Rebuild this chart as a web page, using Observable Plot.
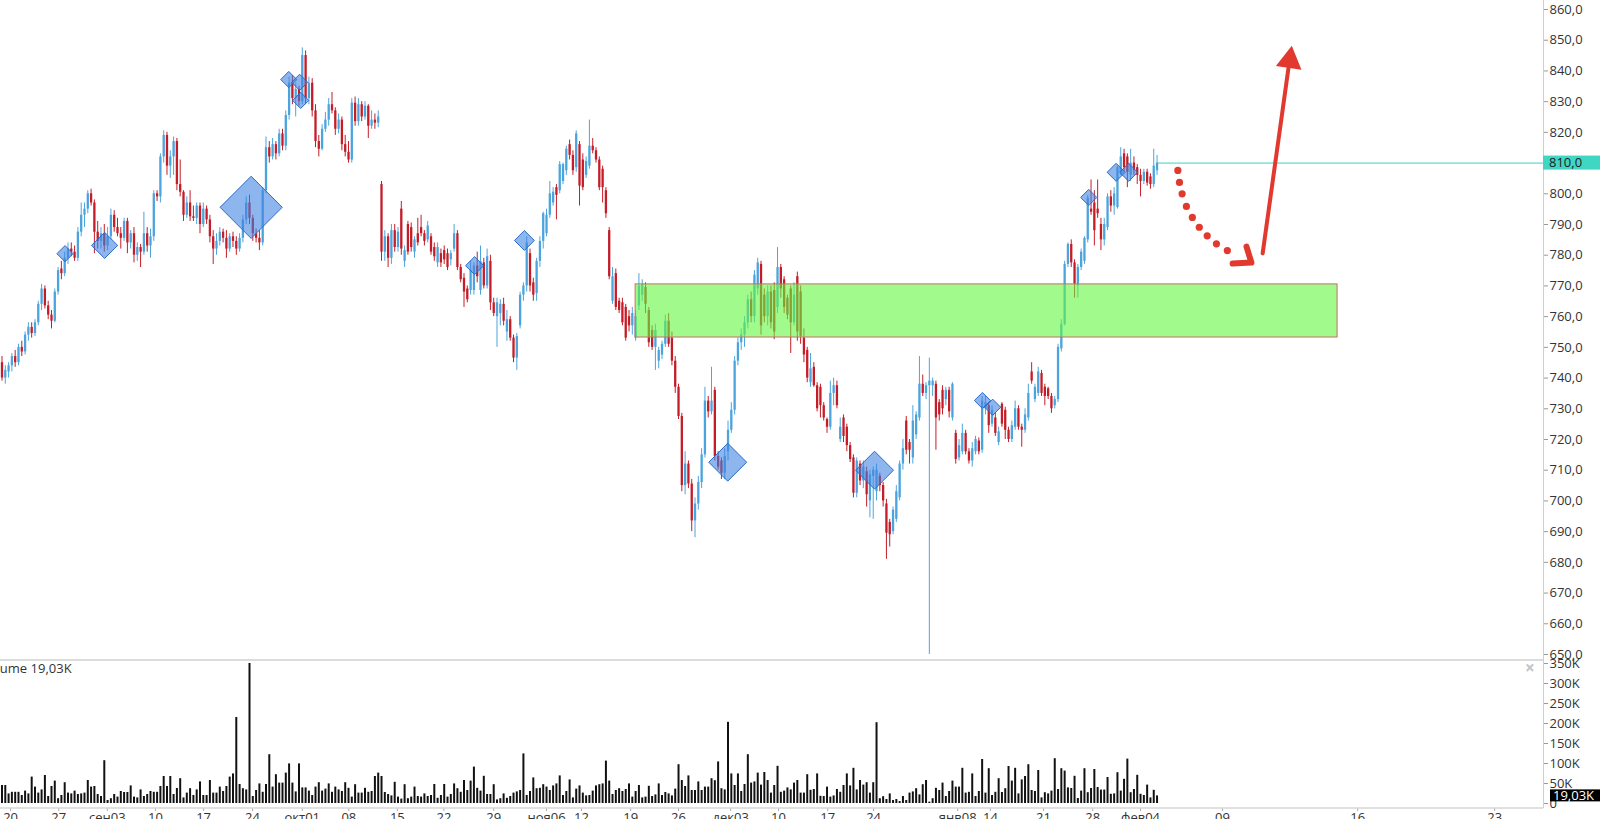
<!DOCTYPE html>
<html><head><meta charset="utf-8">
<script src="https://cdn.jsdelivr.net/npm/d3@7"></script>
<script src="https://cdn.jsdelivr.net/npm/@observablehq/plot@0.6"></script>
<style>
html,body{margin:0;padding:0;background:#fff;overflow:hidden;}
#wrap{position:relative;width:1600px;height:819px;overflow:hidden;font-family:"Open Sans",sans-serif;}
#price{position:absolute;left:0;top:0;}
#vol{position:absolute;left:0;top:659px;}
.vlabel{position:absolute;left:-19px;top:659px;font-size:13px;color:#333;white-space:nowrap;}
.closex{position:absolute;left:1525px;top:656px;font-size:17px;color:#c4c4c4;font-weight:bold;}
</style></head><body>
<div id="wrap"><div id="price"></div><div id="vol"></div>
<div class="vlabel">Volume 19,03K</div><div class="closex">×</div></div>
<script>
// ---- candles (one per ~4h bar) ----
const opens = [745,740,742,744,747,745,750,748.5,754,756.5,754.5,758,764,769,763.5,760.5,758.5,768,775.5,774,
779,782,781,779,787.5,793,795,800,797,787.5,784.5,787,783,786,793,789,787,785.5,791,784,
787,780,782.5,781,787,783,786,800,799,812,819,809,812,817,803,800.5,793,797,792.5,792,
796,790,795,791.5,786,782,784.5,787.5,785.5,782,786,784.5,782,785.5,791.5,797,792,787,785.5,784,
801,815,812,816,813,819.5,815.5,825.5,836,831,834,830,845,831,836,827,817,814.5,821,824,
829,827,821,824,816,813.5,811,829.5,823.5,829,825,828.5,822,824,823,803,781,786,779,788,
782.5,795,778,790,789,781,787,789,787,785,786,782.5,777.5,780.5,781.5,780.5,778.5,782,787,776,
772.5,769,768.5,768.5,776.5,768.5,777.5,770,778,764.5,760,761,764,755,759,753,746.5,757,767,770,
780.5,771,767.5,778,784.5,787,793,797,802,801,804,807.5,816,812.5,808.5,816,811,806,809,815.5,
814,811,808,801,788,765,774,765,764.5,763,760,757,753,763.5,767,769.5,762,755.5,750,745.5,
747.5,751,758.5,753,745.5,737,727.5,705,712,705.5,693.5,699,706,715,732.5,729,736,714.5,713,709,
716,723,729.5,745.5,751.5,754,758,765.5,760,769,777,767,760,768,768.5,763,776,772,766,769,
758,773,768,753,749,738.5,743.5,737.5,737,731,726.5,724,735,737.5,720,727,724,718,714,702.5,
712,706.5,709.5,700,708,703,708,705,699,693,690,694,701,712,726,719,714,721.5,727,738,
735,737.5,737.5,738,732,736,733,736,727,722,714,716,722,716,713,716,719.5,716.5,730,731,
725,727,719,731.5,729.5,723,720,724,730,724,723,727,742,733,735,741.5,737,736.5,734,731,
733,749.5,757.5,777,783.5,777.5,770,776,778,785,795,797,795,790,785,789,799,796,795.5,807,
813,812,806,810,808.5,806,804,807,805.5,803,807.5];
const highs = [747,744,745,748,749,751,752,755,758,758,759,765,770.5,770,765,762,769,776,778,781,
784,784,783,789,797,797,801,801.5,798,791,789,790,789,795,794.5,792,789,792,792,788,
789,784,783.5,794,789,788.5,801,801,813,820.5,820,814,818.5,818,811,801,799,801,796,797,
797,797,796,793,788,787,789,788.5,788,787,787.5,786,787,793,799,799.5,793,788.5,788,802,
818.5,817,818,817,821,821,827,838,838.5,836,835,847.5,846.5,838,837.5,829,819,822.5,826.5,831,
833,828,826,825,819,817,831,831.5,831,830,830,829,827,826,827,804,788,787,790,790,
789,797.5,783,791,790.5,786,792,793,788,791,787,784,784,782,783,782,781.5,790,788,777,
774,770,778,777.5,781,783,779,782,780,766,766,765.5,766,762,760,754,754.5,768,771,786,
782,772.5,779,786,794,795,804,802,803,810.5,810,815.5,817.5,814,820.5,817,813,812,824,818,
815,812,809,802,789,776,775.5,766,766,764,762,763,762,774,772,771,763,757,757.5,750,
752,760.5,761,755,747,738,728.5,716,713,707,701,708,717,737,734,743.5,737,716,714,717,
726,732,747,753,756,760,767,768,775,779,778,769,770,770,771,782.5,777,773,767,770,
771,774.5,770,756,750,748,745,738.5,738,732,727,739,740,739,727,728,725,719,715,714,
713,713,711,710,711,712,709,706,700.5,694,698,705,713,720,727.5,720,731,729,747,741,
738.5,746.5,740,739,733,737.5,737,737,738.5,723,720,725,723,717,719,721,720.5,734,734,732,
731,728.5,724,732,730.5,724,726,732.5,731,725,730,738,745,738,743.5,742.5,738,737,735,734,
751,759,778,784,785,778.5,777,782,786,799.5,804.5,801,804.5,792,792,800,801,802,809,815,
814.5,813,814.5,812,809.5,808,808,808,806.5,814.5,812.5];
const lows = [739,738,740,742,743.5,744,747,747.5,752,753,753.5,757,762,762.5,759,756,758,767,772,773,
777,779.5,778,778,786,789,793.5,796,780.5,782,782,781,781.5,785,787.5,786,782,784.5,780.5,782,
777.5,778,776,780,781,779,784.5,797.5,797,810,806,805,806,801,799,791,792,791,791,790,
787,789,790,784,777,780,783,784,779,781,782.5,780,781,784,790,790,784.5,784,781.5,783,
800,810,811,811,812,814,814,824,829,825,828.5,829,829,829,825,815,812,814,820,822,
826,819,819.5,814,812,810,810,822,822,823.5,824,818,821,821,821.5,778,778,776,777,781,
781,780,776,780,781,779,783,786,783,784,780,778,776,776,777,775,776.5,781,775,771,
763,764.5,767,767,771,767,769,769,762,760,750,757,757,752,752,745,742.5,756,765,768,
768,765,765,776,782,786,792,796,791.5,800,803,806,811,806,807,796,801,805,808,813,
810,801,797,792,772,764,762,761,757,752,755,754,752,762,765,761,750,749,742.5,743,
746,750,750,744,735,726.5,703,702,704,690,688,697,704,714,727,728,713,710,707,707,
713,722,728,744,749,750,756,758,758,767,754,758,757,756,752.5,761,766,761,759,748,
757,752,751,745,738.5,737,737,729,727,726,722,723,731,730,719,719,716,712.5,701,701,
705,704,698,694.5,694,700,703,698,681,685,689,693,700,710,715,712,712,720,726,734,
733,650,734,716.5,726,728,731,727,726,712,713,715,715,712,711,715,715,715.5,728,722,
724,721,718,724,720,719,719,723,723,717.5,722,726,738,732,734,734,731,733,728.5,730,
732,748.5,757,776,776,766,766,775,777,784,793,783,792,781.5,783,788,794,793,795,806,
807,802,804,806,803,799,803,802.5,801.5,802,806];
const closes = [740,742.5,744,747,745,750,748.5,754,756.5,754.5,758,764,769,763.5,760.5,758.5,768,775,774,779,
782,781,779,787.5,793,795,800,797,787.5,784.5,787,783,786,793,789,787,785.5,791,784,787,
780,782.5,781,787,783,786,800,799,812,819,809,812,817,803,800.5,793,797,792.5,792,796,
790,795,791.5,786,782,784.5,787.5,785.5,782,786,784.5,782,785.5,791.5,797,792,787,785.5,784,801,
815,812,816,813,819.5,815.5,825.5,836,831,834,830,845,831,836,827,817,814.5,821,824,829,
827,821,824,816,813.5,811,829.5,823.5,829,825,828.5,822,824,823,825,781,786,779,788,782.5,
787.5,782,781.5,781,782.5,785,784,787,784.5,789.5,781,779.5,782.5,777.5,778.5,776,780.5,787,776,772,
768,765.5,775,776.5,773,778,770,779.5,764.5,761,764.5,764,758.5,759,753,746.5,753.5,767,770,784,
770,767,778,784.5,793.5,793,800,800.5,799.5,809.5,809.5,814.5,812.5,807.5,819.5,802.5,802,810.5,815.5,814,
811,802,802,793.5,773,773,763,762,758,753,757,761,760,770,770.5,764,751.5,750,755.5,749,
751,758.5,751,745.5,737,727.5,705,712,705.5,693.5,699,706,715,732.5,729,732.5,714.5,711,709,714.5,
723,729.5,745.5,751.5,754,758,765.5,760,773.5,777.5,757,760,768,758,755,776,769,763,760.5,758,
767,755,753.5,747.5,740,743,737.5,730,731,727,724,735,737.5,731,724,721,718,713.5,702.5,713,
706.5,711,702,708.5,710,710,705,700,689.5,689,697,703,712,717,716.5,716.5,726,728,738,735,
737.5,739,739,727,728,730,736,729,738,713.5,718,722,716,713,717,720,716,732.5,732,724.5,
729.5,722,722.5,725,723,720,724.5,730,724,723,728,735,739,737,742,735,734,734,730,733,
750,757.5,777,783.5,777.5,770.5,776,781,785.5,798.5,794,788,793.5,785,790,799,796,800,808.5,812,
808.5,807,810,807.5,806,804,807,803.5,803,809,810];
// ---- volume, thousands ----
const volumes = [45,45,24,28,28,28,20,31,24,
66,41,26,34,70,17.5,42.5,56,12,20,
52,26,24,31,22.5,24,26,57.5,41,42.5,
22.5,17.5,107,7.5,12,22.5,16,30,27.5,27.5,
44,16,14,34,17.5,22.5,30,28,28,42.5,
67.5,42.5,67.5,22.5,37.5,62,14,26,37,20,
34,54,20,20,57.5,26,26,41,30,42.5,
66,74,215,47.5,37,34,350,17.5,32.5,49,
28,47.5,122,41,72,51,51,76,99,51,
29,99,39,39,31,20,41,52,31,36,
49,28,41,34,30,52,38,16,47,
26,26,38,28,30,67.5,76,67.5,27.5,22.5,
19,53,16,11,47,12,16,41,17.5,16,
24,17.5,20,47.5,13,20,47.5,16,22.5,49,
37,28,57.5,32.5,56,91,38,31,68,22.5,
22.5,47,9,12,24,13,17.5,26,29,32.5,
124,20,30,64,37,38,47,41,32.5,
44,49,69,20,30,59,14,36,44,
26,19,20,31,44,47,49,106,56,22.5,
32.5,37,30,35,49,16,30,45,14,16,
43,17.5,21.5,49,20,27.5,24,19,36,97,
57.5,42.5,69,32.5,32.5,54,32.5,41,41,62,
57,104,37,34,203,74,45,74,30,47.5,
122,51,54,76,46,77.5,57.5,26,45,93,
28,31,39,34,51,57.5,26,26,72,33,
35,74,18,17.5,41,16,19,35,28,45,
74,44,88,34,57.5,46,52,26,52,202,
12,17,10,24,7.5,10,5,17.5,7.5,26,
29,37,21.5,47,57.5,3.5,12,38,32.5,51,
17.5,30,56,41,41,88,26,28,74,17.5,
30,110,26,87,20,28,62,27.5,37,92.5,
56,88,24,59,67.5,97,32.5,30,82.5,
14,27,24,31,112,35,87,81,39,37.5,68,12.5,31,87,27,37.5,85,40,
33.6,33.6,65,23,24,77,31,60.5,111,27,35,70.5,23,20,46,14,33,19.03];
// ---- signal diamonds: bar index, price, weight ----
const diamondIdx   = [19.1,31.1,75.5,86.9,90.2,90.5,143.2,158.3,219.9,264.4,297.1,300.2,329.3,337.6,341.4];
const diamondPrice = [780.5,783.2,795.6,837.2,836.3,830.4,776.6,784.8,712.6,710,732.7,730.5,798.8,807,807];
const diamondWeight= [26,42,100,26,26,26,29,32,61,61,26,26,26,29,29];
// ---- support zone ----
const zoneStart = 192.0, zoneEnd = 404.7, zoneLow = 753.2, zoneHigh = 770.5;
// ---- forecast annotation (bar index, price) ----
const forecastDotsIdx   = [356.3,356.8,357.6,358.9,360.7,362.8,365.2,368.0,371.3];
const forecastDotsPrice = [807.6,803.7,800.0,795.9,792.3,789.1,786.3,783.7,781.5];
const chevronIdx   = [372.9,378.6,377.1];
const chevronPrice = [777.3,777.6,782.8];
const arrowIdx   = [382.0,389.8];
const arrowPrice = [780.6,840.8];
const arrowHead  = {i:390.2, p:843.4};
// ---- date axis ----
const tickIdx = [2.6,17.2,31.9,46.5,61.1,75.9,91,105.1,119.8,133.9,149,165,175.6,190.5,205,220.8,235.3,250.2,264.1,289.6,299.5,315.6,330.5,345,369.8,410.8,452.3];
const tickLabels = ["20","27","сен03","10","17","24","окт01","08","15","22","29","ноя06","12","19","26","дек03","10","17","24","янв08","14","21","28","фев04","09","16","23"];
const priceTicks = d3.range(650, 861, 10);
const volTicks = d3.range(0, 351, 50);

// ---------- build ----------
const UP = "#4ca4de", DOWN = "#c41d28", RED = "#e2392f";
const N = closes.length;
const candles = d3.range(N).map(i => ({i, o: opens[i], h: highs[i], l: lows[i], c: closes[i], col: closes[i] >= opens[i] ? UP : DOWN}));
const diamonds = diamondIdx.map((d, k) => ({i: d, p: diamondPrice[k], w: diamondWeight[k]}));
const fdots = forecastDotsIdx.map((d, k) => ({i: d, p: forecastDotsPrice[k]}));
const chev = chevronIdx.map((d, k) => ({i: d, p: chevronPrice[k]}));
const arr = arrowIdx.map((d, k) => ({i: d, p: arrowPrice[k]}));
const vols = volumes.map((v, i) => ({i, v}));
const xDomain = [-0.45, 467.1];
const fmtP = d => d.toFixed(1).replace(".", ",");
const fmtV = d => d === 0 ? "0" : d + "K";
const tickMap = new Map(tickIdx.map((t, k) => [t, tickLabels[k]]));
const font = {fontFamily: '"Open Sans", sans-serif', fontSize: "13px", background: "transparent", overflow: "visible"};
const last = candles[N - 1];

const price = Plot.plot({
  width: 1600, height: 659, marginTop: 0, marginBottom: 0, marginLeft: 0, marginRight: 57,
  style: font,
  x: {domain: xDomain, axis: null, label: null},
  y: {domain: [648.37, 862.93], label: null},
  r: {type: "linear", domain: [0, 100], range: [0, 28]},
  marks: [
    Plot.ruleX(candles, {x: "i", y1: "l", y2: "h", stroke: "col", strokeWidth: 1}),
    Plot.ruleX(candles, {x: "i", y1: "o", y2: "c", stroke: "col", strokeWidth: 2.3}),
    Plot.rect([0], {x1: zoneStart, x2: zoneEnd, y1: zoneLow, y2: zoneHigh, fill: "#61f73f", fillOpacity: 0.6, stroke: "#d06a6a", strokeWidth: 1}),
    Plot.dot(diamonds, {x: "i", y: "p", r: "w", symbol: "diamond2", fill: "#3c82e1", fillOpacity: 0.58, stroke: "#2d6cc6", strokeWidth: 1}),
    Plot.ruleY([last.c], {x1: last.i + 0.4, x2: xDomain[1], stroke: "#3fcfc0", strokeWidth: 1}),
    Plot.dot(fdots, {x: "i", y: "p", r: 3.6, fill: RED, stroke: "none"}),
    Plot.line(chev, {x: "i", y: "p", stroke: RED, strokeWidth: 6, strokeLinecap: "round", strokeLinejoin: "round"}),
    Plot.line(arr, {x: "i", y: "p", stroke: RED, strokeWidth: 4}),
    Plot.dot([arrowHead], {x: "i", y: "p", symbol: "triangle", r: 9.6, rotate: 8, fill: RED, stroke: "none"}),
    Plot.ruleX([xDomain[1]], {stroke: "#cfcfcf", strokeWidth: 1}),
    Plot.axisY({anchor: "right", label: null, ticks: priceTicks, tickFormat: fmtP, tickSize: 4, tickPadding: 2, stroke: "#999", color: "#333"})
  ]
});
document.getElementById("price").append(price);
// current price badge
{
  const y = price.scale("y").apply(last.c);
  const g = d3.select(price).append("g");
  g.append("rect").attr("x", 1543).attr("y", y - 7).attr("width", 57).attr("height", 14).attr("fill", "#3fd6c4");
  g.append("text").attr("x", 1549).attr("y", y).attr("dy", "0.36em").attr("fill", "#222").attr("text-anchor", "start")
    .attr("font-size", 13).attr("font-family", '"Open Sans", sans-serif').text(fmtP(last.c));
}

const vol = Plot.plot({
  width: 1600, height: 160, marginTop: 0, marginBottom: 11, marginLeft: 0, marginRight: 57,
  style: font,
  x: {domain: xDomain, label: null},
  y: {domain: [-12.5, 360], label: null},
  marks: [
    Plot.ruleX(vols, {x: "i", y1: 0, y2: "v", stroke: "#111", strokeWidth: 2}),
    Plot.ruleX([xDomain[1]], {stroke: "#cfcfcf", strokeWidth: 1}),
    Plot.axisX({label: null, ticks: tickIdx, tickFormat: d => tickMap.get(d), tickSize: 3, tickPadding: 1, stroke: "#aaa", color: "#333"}),
    Plot.axisY({anchor: "right", label: null, ticks: volTicks, tickFormat: fmtV, tickSize: 4, tickPadding: 2, stroke: "#999", color: "#333"})
  ]
});
document.getElementById("vol").append(vol);
{
  const sv = d3.select(vol);
  sv.insert("line", ":first-child").attr("x1", 0).attr("x2", 1543).attr("y1", 1).attr("y2", 1).attr("stroke", "#dcdcdc").attr("stroke-width", 2);
  sv.append("line").attr("x1", 0).attr("x2", 1543).attr("y1", 149).attr("y2", 149).attr("stroke", "#d6d6d6").attr("stroke-width", 1.5);
  const lv = volumes[volumes.length - 1];
  const y = vol.scale("y").apply(lv);
  sv.append("rect").attr("x", 1550).attr("y", y - 6).attr("width", 50).attr("height", 12).attr("fill", "#000");
  sv.append("text").attr("x", 1553).attr("y", y).attr("dy", "0.36em").attr("fill", "#fff").attr("text-anchor", "start")
    .attr("font-size", 13).attr("font-family", '"Open Sans", sans-serif').text(lv.toFixed(2).replace(".", ",") + "K");
}
</script></body></html>
